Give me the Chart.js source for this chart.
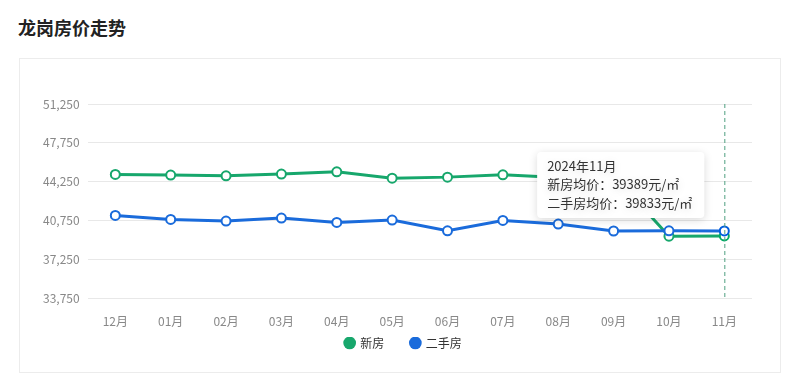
<!DOCTYPE html>
<html>
<head>
<meta charset="utf-8">
<script src="https://cdn.jsdelivr.net/npm/chart.js@4/dist/chart.umd.min.js"></script>
<style>
    body { margin: 0; background: #fff; font-family: "Noto Sans CJK SC", sans-serif; }
    h2 { position: absolute; left: 18px; top: 13px; margin: 0; font-size: 18px; font-weight: bold; color: #222; line-height: 28px; }
    .card { position: absolute; left: 19px; top: 58px; width: 760px; height: 313px; border: 1px solid #ececec; }
    .card canvas { display: block; }
</style>
</head>
<body>
<h2>龙岗房价走势</h2>
<div class="card"><canvas id="price-chart" width="760" height="313"></canvas></div>
<script>
// Tick labels and tooltip titles
const monthLabels = ['12月', '01月', '02月', '03月', '04月', '05月', '06月', '07月', '08月', '09月', '10月', '11月'];
const monthTitles = ['2023年12月', '2024年01月', '2024年02月', '2024年03月', '2024年04月', '2024年05月',
    '2024年06月', '2024年07月', '2024年08月', '2024年09月', '2024年10月', '2024年11月'];

// Average prices, 元/㎡
const newHomePrices = [44917, 44854, 44791, 44944, 45152, 44584, 44674, 44881, 44650, 44850, 39360, 39389];
const resalePrices = [41228, 40867, 40720, 40993, 40600, 40813, 39848, 40777, 40452, 39830, 39845, 39833];

const GREEN = '#17a76c';
const BLUE = '#1a6bdb';
const activeIndex = 11;

// Fixed tooltip spot, left of the hovered month
Chart.Tooltip.positioners.pinned = function (elements) {
    if (!elements.length) return false;
    const area = this.chart.chartArea;
    return { x: elements[0].element.x, y: area.top + 81, xAlign: 'right', yAlign: 'center' };
};

// Dashed vertical guide at the active month
const guideLine = {
    id: 'guideLine',
    afterDatasetsDraw(chart) {
        const active = chart.tooltip.getActiveElements();
        if (!active.length) return;
        const x = active[0].element.x;
        const { top, bottom } = chart.chartArea;
        const ctx = chart.ctx;
        ctx.save();
        ctx.strokeStyle = '#4f9f80';
        ctx.lineWidth = 1;
        ctx.setLineDash([4, 3]);
        ctx.beginPath();
        ctx.moveTo(x + 0.5, top);
        ctx.lineTo(x + 0.5, bottom);
        ctx.stroke();
        ctx.restore();
    }
};

// Soft shadow under the tooltip box
const tooltipShadow = {
    id: 'tooltipShadow',
    beforeTooltipDraw(chart) {
        const ctx = chart.ctx;
        ctx.save();
        ctx.shadowColor = 'rgba(0, 0, 0, 0.15)';
        ctx.shadowBlur = 8;
        ctx.shadowOffsetY = 2;
    },
    afterTooltipDraw(chart) {
        chart.ctx.restore();
    }
};

// Legend row sits a little right of the canvas centre in the reference
const legendNudge = {
    id: 'legendNudge',
    afterLayout(chart) {
        chart.legend.left += 10;
        chart.legend.right += 10;
    }
};

Chart.defaults.font.family = '"Noto Sans CJK SC", sans-serif';
Chart.defaults.font.size = 12;

const chart = new Chart(document.getElementById('price-chart'), {
    type: 'line',
    data: {
        labels: monthLabels,
        datasets: [{
            label: '新房',
            data: newHomePrices,
            order: 1,
            borderColor: GREEN,
            backgroundColor: GREEN,
            borderWidth: 3,
            pointRadius: 4.5,
            pointHoverRadius: 4.5,
            pointBorderWidth: 2,
            pointHoverBorderWidth: 2,
            pointBackgroundColor: '#fff',
            pointHoverBackgroundColor: '#fff',
            pointBorderColor: GREEN,
            tension: 0
        }, {
            label: '二手房',
            data: resalePrices,
            order: 0,
            borderColor: BLUE,
            backgroundColor: BLUE,
            borderWidth: 3,
            pointRadius: 4.5,
            pointHoverRadius: 4.5,
            pointBorderWidth: 2,
            pointHoverBorderWidth: 2,
            pointBackgroundColor: '#fff',
            pointHoverBackgroundColor: '#fff',
            pointBorderColor: BLUE,
            tension: 0
        }]
    },
    options: {
        responsive: false,
        animation: false,
        layout: { padding: { left: 15, right: 28, top: 45, bottom: 13 } },
        interaction: { mode: 'index', intersect: false },
        plugins: {
            legend: {
                position: 'bottom',
                labels: {
                    usePointStyle: true,
                    pointStyle: 'circle',
                    boxWidth: 9,
                    boxHeight: 9,
                    padding: 0,
                    color: '#333',
                    font: { size: 12 },
                    generateLabels(chart) {
                        const sets = chart.data.datasets;
                        return sets.map((ds, i) => ({
                            // trailing ideographic spaces keep the items apart
                            text: i < sets.length - 1 ? ds.label + '\u3000\u3000 ' : ds.label,
                            fillStyle: ds.borderColor,
                            strokeStyle: ds.borderColor,
                            lineWidth: 0,
                            pointStyle: 'circle',
                            fontColor: '#333',
                            datasetIndex: i
                        }));
                    }
                }
            },
            tooltip: {
                position: 'pinned',
                backgroundColor: '#fff',
                titleColor: '#333',
                bodyColor: '#333',
                titleFont: { size: 13, weight: 'normal' },
                bodyFont: { size: 13 },
                titleMarginBottom: 3,
                bodySpacing: 3,
                padding: { left: 10, right: 12, top: 6, bottom: 7 },
                cornerRadius: 4,
                caretSize: 0,
                caretPadding: 20,
                displayColors: false,
                borderWidth: 0,
                itemSort: (a, b) => a.datasetIndex - b.datasetIndex,
                callbacks: {
                    title: items => monthTitles[items[0].dataIndex],
                    label: item => item.dataset.label + '均价：' + item.raw + '元/㎡'
                }
            }
        },
        scales: {
            x: {
                offset: true,
                grid: { display: false },
                border: { display: false },
                ticks: { color: '#888', padding: 8 }
            },
            y: {
                min: 33750,
                max: 51250,
                grid: { color: '#e8e8e8', drawTicks: false },
                border: { display: false },
                ticks: { stepSize: 3500, color: '#888', padding: 8 }
            }
        }
    },
    plugins: [guideLine, tooltipShadow, legendNudge]
});

// Show the tooltip for the last month, as in the reference
const activeEls = chart.data.datasets.map((ds, i) => ({ datasetIndex: i, index: activeIndex }));
const pt = chart.getDatasetMeta(0).data[activeIndex];
chart.tooltip.setActiveElements(activeEls, { x: pt.x, y: pt.y });
chart.setActiveElements(activeEls);
chart.update();
</script>
</body>
</html>
